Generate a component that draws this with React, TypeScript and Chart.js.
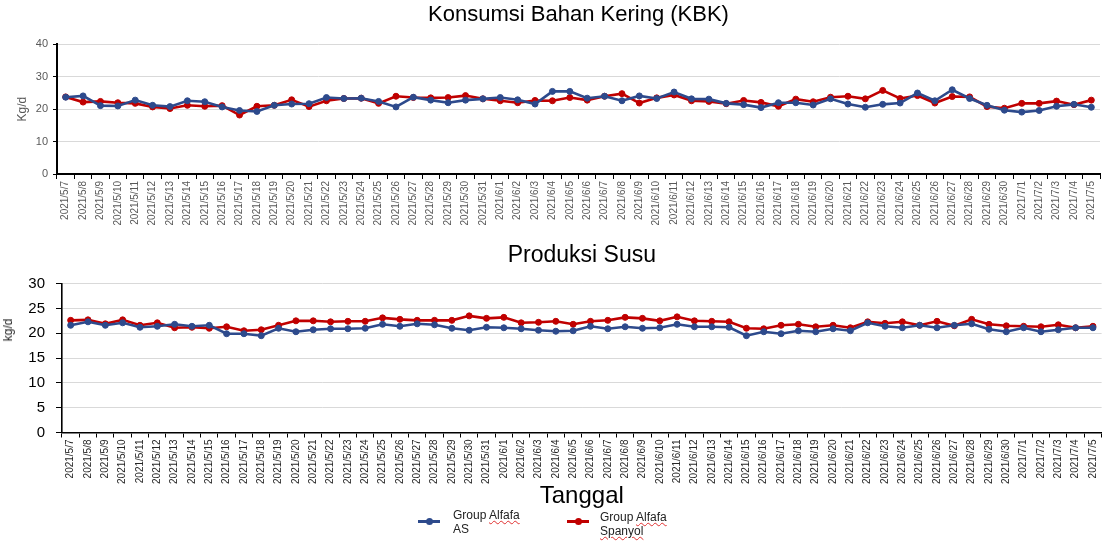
import React, { useEffect, useRef } from "react";
import { Chart, registerables } from "chart.js";

Chart.register(...registerables);

const dates = [
  "2021/5/7", "2021/5/8", "2021/5/9", "2021/5/10", "2021/5/11", "2021/5/12", "2021/5/13", "2021/5/14",
  "2021/5/15", "2021/5/16", "2021/5/17", "2021/5/18", "2021/5/19", "2021/5/20", "2021/5/21", "2021/5/22",
  "2021/5/23", "2021/5/24", "2021/5/25", "2021/5/26", "2021/5/27", "2021/5/28", "2021/5/29", "2021/5/30",
  "2021/5/31", "2021/6/1", "2021/6/2", "2021/6/3", "2021/6/4", "2021/6/5", "2021/6/6", "2021/6/7",
  "2021/6/8", "2021/6/9", "2021/6/10", "2021/6/11", "2021/6/12", "2021/6/13", "2021/6/14", "2021/6/15",
  "2021/6/16", "2021/6/17", "2021/6/18", "2021/6/19", "2021/6/20", "2021/6/21", "2021/6/22", "2021/6/23",
  "2021/6/24", "2021/6/25", "2021/6/26", "2021/6/27", "2021/6/28", "2021/6/29", "2021/6/30", "2021/7/1",
  "2021/7/2", "2021/7/3", "2021/7/4", "2021/7/5",
];

const kbkAS = [
  23.7, 24.1, 21.1, 21.0, 22.8, 21.2, 20.8, 22.6, 22.3, 20.7, 19.6, 19.3, 21.2, 21.6, 21.7, 23.6,
  23.3, 23.4, 22.4, 20.7, 23.7, 22.8, 22.0, 22.8, 23.2,
  23.6, 22.9, 21.6, 25.5, 25.5, 23.4, 24.0, 22.6, 24.1, 23.3, 25.3, 23.2, 23.1, 21.8, 21.4,
  20.5, 22.0, 22.0, 21.3, 23.2, 21.6, 20.6, 21.5, 21.9, 25.0, 22.6, 26.0, 23.3, 21.2, 19.7,
  19.1, 19.6, 20.9, 21.5, 20.6,
];

const kbkSpanyol = [
  23.8, 22.2, 22.4, 22.0, 21.8, 20.7, 20.2, 21.2, 20.9, 21.1, 18.2, 20.9, 21.2, 22.9, 20.8, 22.6,
  23.3, 23.4, 21.8, 24.0, 23.6, 23.5, 23.6, 24.2, 23.2,
  22.6, 22.0, 22.7, 22.6, 23.6, 22.8, 24.0, 24.8, 21.9, 23.5, 24.4, 22.6, 22.4, 21.7, 22.7,
  22.1, 20.9, 23.1, 22.3, 23.7, 24.0, 23.2, 25.8, 23.3, 24.2, 21.9, 23.9, 23.8, 20.8, 20.3,
  21.8, 21.8, 22.5, 21.4, 22.8,
];

const susuAS = [
  21.6, 22.3, 21.6, 22.1, 21.2, 21.4, 21.8, 21.4, 21.6, 19.9, 19.9, 19.5, 21.0, 20.3, 20.7, 20.9,
  20.9, 21.0, 21.8, 21.4, 21.9, 21.7, 21.0, 20.6, 21.2,
  21.1, 20.9, 20.6, 20.4, 20.5, 21.4, 20.9, 21.3, 21.0, 21.1, 21.8, 21.3, 21.3, 21.2, 19.5,
  20.3, 19.9, 20.5, 20.3, 20.9, 20.5, 22.1, 21.4, 21.1, 21.6, 21.1, 21.6, 21.9, 20.8, 20.3,
  21.1, 20.3, 20.7, 21.1, 21.1,
];

const susuSpanyol = [
  22.6, 22.7, 21.9, 22.7, 21.6, 22.1, 21.1, 21.2, 21.0, 21.3, 20.5, 20.7, 21.6, 22.5, 22.5, 22.3,
  22.4, 22.4, 23.1, 22.8, 22.6, 22.6, 22.6, 23.5, 23.0,
  23.2, 22.1, 22.2, 22.4, 21.8, 22.4, 22.6, 23.2, 23.0, 22.5, 23.3, 22.5, 22.4, 22.3, 21.0,
  20.9, 21.6, 21.8, 21.3, 21.6, 21.1, 22.3, 22.0, 22.3, 21.6, 22.4, 21.5, 22.8, 21.8, 21.5,
  21.4, 21.3, 21.7, 21.1, 21.4,
];

const seriesNames = ["Group Alfafa AS", "Group Alfafa Spanyol"];
const titleTop = "Konsumsi Bahan Kering (KBK)";
const titleBottom = "Produksi Susu";
const yTitleTop = "Kg/d";
const yTitleBottom = "kg/d";
const xTitleBottom = "Tanggal";

const BLUE = "#2D4A8C";
const RED = "#C00000";
const FONT = "'Liberation Sans', Arial, sans-serif";

function makeDatasets(a: number[], b: number[]) {
  return [
    {
      label: seriesNames[0],
      data: a,
      borderColor: BLUE,
      backgroundColor: BLUE,
      borderWidth: 2.6,
      pointRadius: 3,
      pointBorderWidth: 1,
      pointBackgroundColor: BLUE,
      pointBorderColor: BLUE,
      tension: 0,
    },
    {
      label: seriesNames[1],
      data: b,
      borderColor: RED,
      backgroundColor: RED,
      borderWidth: 2.6,
      pointRadius: 3,
      pointBorderWidth: 1,
      pointBackgroundColor: RED,
      pointBorderColor: RED,
      tension: 0,
    },
  ];
}

export default function App() {
  const topRef = useRef<HTMLCanvasElement | null>(null);
  const botRef = useRef<HTMLCanvasElement | null>(null);

  useEffect(() => {
    const c1 = new Chart(topRef.current as HTMLCanvasElement, {
      type: "line",
      data: { labels: dates, datasets: makeDatasets(kbkAS, kbkSpanyol) as any },
      options: {
        animation: false,
        responsive: false,
        devicePixelRatio: 1,
        layout: { padding: { left: 0, right: 7, top: 0, bottom: 0 } },
        plugins: {
          legend: { display: false },
          tooltip: { enabled: false },
          title: {
            display: true,
            text: titleTop,
            fullSize: false,
            color: "#000",
            font: { family: FONT, size: 22, weight: "normal" },
            padding: { top: 2, bottom: 16 },
          },
        },
        scales: {
          x: {
            type: "category",
            offset: true,
            grid: { offset: true, drawOnChartArea: false, drawTicks: true, tickLength: 5, color: "#000", lineWidth: 1 },
            border: { color: "#000", width: 2 },
            ticks: {
              autoSkip: false,
              maxRotation: 90,
              minRotation: 90,
              padding: 2,
              color: "#595959",
              font: { family: FONT, size: 10 },
            },
            afterFit: (s: any) => { s.height = 66; },
          },
          y: {
            min: 0,
            max: 40,
            ticks: { stepSize: 10, padding: 5, color: "#595959", font: { family: FONT, size: 11 } },
            grid: { color: "#D9D9D9", tickColor: "#000", tickLength: 4, lineWidth: 1 },
            border: { color: "#000", width: 2 },
            title: {
              display: true,
              text: yTitleTop,
              color: "#595959",
              font: { family: FONT, size: 12 },
              padding: { top: 15, bottom: 0 },
            },
            afterFit: (s: any) => { s.width = 57; },
          },
        },
      } as any,
    });

    const c2 = new Chart(botRef.current as HTMLCanvasElement, {
      type: "line",
      data: { labels: dates, datasets: makeDatasets(susuAS, susuSpanyol) as any },
      options: {
        animation: false,
        responsive: false,
        devicePixelRatio: 1,
        layout: { padding: { left: 0, right: 5, top: 0, bottom: 0 } },
        plugins: {
          legend: { display: false },
          tooltip: { enabled: false },
          title: {
            display: true,
            text: titleBottom,
            fullSize: false,
            color: "#000",
            font: { family: FONT, size: 23, weight: "normal" },
            padding: { top: 2, bottom: 14 },
          },
        },
        scales: {
          x: {
            type: "category",
            offset: true,
            grid: { offset: true, drawOnChartArea: false, drawTicks: true, tickLength: 5, color: "#000", lineWidth: 1 },
            border: { color: "#000", width: 1.6 },
            ticks: {
              autoSkip: false,
              maxRotation: 90,
              minRotation: 90,
              padding: 2,
              color: "#262626",
              font: { family: FONT, size: 10 },
            },
            title: {
              display: true,
              text: xTitleBottom,
              color: "#000",
              font: { family: FONT, size: 24 },
              padding: { top: 0, bottom: 4 },
            },
            afterFit: (s: any) => { s.height = 82.5; },
          },
          y: {
            min: 0,
            max: 30,
            ticks: { stepSize: 5, padding: 11, color: "#000", font: { family: FONT, size: 15 } },
            grid: { color: "#D9D9D9", tickColor: "#000", tickLength: 6, lineWidth: 1 },
            border: { color: "#000", width: 1.6 },
            afterFit: (s: any) => { s.width = 62; },
          },
        },
      } as any,
    });

    return () => {
      c1.destroy();
      c2.destroy();
    };
  }, []);

  const legendText: React.CSSProperties = {
    position: "absolute",
    fontFamily: FONT,
    fontSize: 12,
    lineHeight: "14px",
    color: "#222",
    whiteSpace: "nowrap",
  };
  const squiggle: React.CSSProperties = {
    textDecorationLine: "underline",
    textDecorationStyle: "wavy",
    textDecorationColor: "#E03030",
    textDecorationThickness: "1px",
  };

  const marker = (color: string, left: number, top: number) => (
    <div style={{ position: "absolute", left, top, width: 22, height: 8 }}>
      <div style={{ position: "absolute", left: 0, top: 2.5, width: 22, height: 3, background: color }} />
      <div style={{ position: "absolute", left: 7.5, top: 0.5, width: 7, height: 7, borderRadius: "50%", background: color }} />
    </div>
  );

  return (
    <div style={{ position: "fixed", left: 0, top: 0, width: 1107, height: 544, background: "#fff", overflow: "hidden" }}>
      <canvas ref={topRef} width={1107} height={240} style={{ position: "absolute", left: 0, top: 0, width: 1107, height: 240 }} />
      <canvas ref={botRef} width={1107} height={275} style={{ position: "absolute", left: 0, top: 240, width: 1107, height: 275 }} />
      <div
        style={{
          position: "absolute",
          left: 8,
          top: 330,
          transform: "translate(-50%, -50%) rotate(-90deg)",
          fontFamily: FONT,
          fontSize: 12,
          color: "#222",
          whiteSpace: "nowrap",
        }}
      >
        {yTitleBottom}
      </div>
      {marker(BLUE, 418, 517)}
      <div style={{ ...legendText, left: 453, top: 508 }}>
        Group <span style={squiggle}>Alfafa</span>
        <br />
        AS
      </div>
      {marker(RED, 567, 517)}
      <div style={{ ...legendText, left: 600, top: 510 }}>
        Group <span style={squiggle}>Alfafa</span>
        <br />
        <span style={squiggle}>Spanyol</span>
      </div>
    </div>
  );
}
